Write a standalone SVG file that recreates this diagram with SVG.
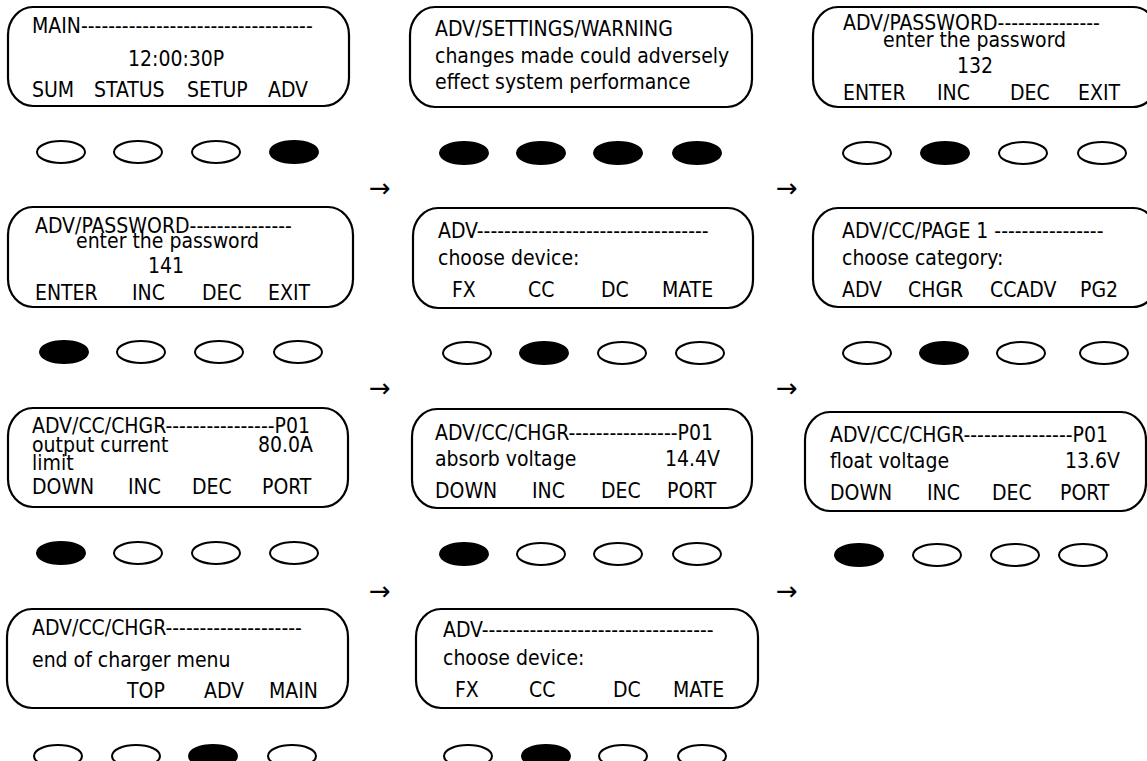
<svg xmlns="http://www.w3.org/2000/svg" width="1147" height="761" viewBox="0 0 1147 761">
<style>
.scr{fill:#fff;stroke:#000;stroke-width:2.2}
.t{font-family:"DejaVu Sans Condensed","DejaVu Sans",sans-serif;font-size:21px;fill:#000}
.off{fill:#fff;stroke:#000;stroke-width:2}
.on{fill:#000;stroke:#000;stroke-width:2}
.arr{font-family:"DejaVu Sans","Liberation Sans",sans-serif;font-size:26px;fill:#000}
</style>
<rect width="1147" height="761" fill="#fff"/>
<g id="connectors">
<text class="arr" x="369" y="197">→</text>
<text class="arr" x="776" y="197">→</text>
<text class="arr" x="369" y="397">→</text>
<text class="arr" x="776" y="397">→</text>
<text class="arr" x="369" y="600">→</text>
<text class="arr" x="776" y="600">→</text>
</g>
<g id="screen1">
<rect class="scr" x="8" y="7" width="341" height="99" rx="25" ry="28"/>
<text class="t" x="32" y="33">MAIN----------------------------------</text>
<text class="t" x="128" y="66">12:00:30P</text>
<text class="t" x="32" y="97">SUM</text><text class="t" x="94" y="97">STATUS</text><text class="t" x="187" y="97">SETUP</text><text class="t" x="268" y="97">ADV</text>
<ellipse class="off" cx="61" cy="152" rx="24" ry="11"/><ellipse class="off" cx="138" cy="152" rx="24" ry="11"/><ellipse class="off" cx="216" cy="152" rx="24" ry="11"/><ellipse class="on" cx="294" cy="152" rx="24" ry="11"/>
</g>
<g id="screen2">
<rect class="scr" x="410" y="7" width="342" height="100" rx="25" ry="28"/>
<text class="t" x="435" y="36">ADV/SETTINGS/WARNING</text>
<text class="t" x="435" y="63">changes made could adversely</text>
<text class="t" x="435" y="89">effect system performance</text>
<ellipse class="on" cx="464" cy="153" rx="24" ry="11"/><ellipse class="on" cx="541" cy="153" rx="24" ry="11"/><ellipse class="on" cx="618" cy="153" rx="24" ry="11"/><ellipse class="on" cx="697" cy="153" rx="24" ry="11"/>
</g>
<g id="screen3">
<rect class="scr" x="813" y="7" width="345" height="100" rx="25" ry="28"/>
<text class="t" x="843" y="30">ADV/PASSWORD---------------</text>
<text class="t" x="883" y="47">enter the password</text>
<text class="t" x="957" y="73">132</text>
<text class="t" x="843" y="100">ENTER</text><text class="t" x="937" y="100">INC</text><text class="t" x="1010" y="100">DEC</text><text class="t" x="1078" y="100">EXIT</text>
<ellipse class="off" cx="867" cy="153" rx="24" ry="11"/><ellipse class="on" cx="945" cy="153" rx="24" ry="11"/><ellipse class="off" cx="1023" cy="153" rx="24" ry="11"/><ellipse class="off" cx="1102" cy="153" rx="24" ry="11"/>
</g>
<g id="screen4">
<rect class="scr" x="8" y="207" width="345" height="100" rx="25" ry="28"/>
<text class="t" x="35" y="233">ADV/PASSWORD---------------</text>
<text class="t" x="76" y="248">enter the password</text>
<text class="t" x="148" y="273">141</text>
<text class="t" x="35" y="300">ENTER</text><text class="t" x="132" y="300">INC</text><text class="t" x="202" y="300">DEC</text><text class="t" x="268" y="300">EXIT</text>
<ellipse class="on" cx="64" cy="352" rx="24" ry="11"/><ellipse class="off" cx="141" cy="352" rx="24" ry="11"/><ellipse class="off" cx="219" cy="352" rx="24" ry="11"/><ellipse class="off" cx="298" cy="352" rx="24" ry="11"/>
</g>
<g id="screen5">
<rect class="scr" x="413" y="208" width="340" height="100" rx="25" ry="28"/>
<text class="t" x="438" y="238">ADV----------------------------------</text>
<text class="t" x="438" y="265">choose device:</text>
<text class="t" x="452" y="297">FX</text><text class="t" x="528" y="297">CC</text><text class="t" x="601" y="297">DC</text><text class="t" x="662" y="297">MATE</text>
<ellipse class="off" cx="467" cy="353" rx="24" ry="11"/><ellipse class="on" cx="544" cy="353" rx="24" ry="11"/><ellipse class="off" cx="622" cy="353" rx="24" ry="11"/><ellipse class="off" cx="700" cy="353" rx="24" ry="11"/>
</g>
<g id="screen6">
<rect class="scr" x="813" y="208" width="345" height="99" rx="25" ry="28"/>
<text class="t" x="842" y="238">ADV/CC/PAGE 1 ----------------</text>
<text class="t" x="842" y="265">choose category:</text>
<text class="t" x="842" y="297">ADV</text><text class="t" x="908" y="297">CHGR</text><text class="t" x="990" y="297">CCADV</text><text class="t" x="1080" y="297">PG2</text>
<ellipse class="off" cx="867" cy="353" rx="24" ry="11"/><ellipse class="on" cx="944" cy="353" rx="24" ry="11"/><ellipse class="off" cx="1021" cy="353" rx="24" ry="11"/><ellipse class="off" cx="1104" cy="353" rx="24" ry="11"/>
</g>
<g id="screen7">
<rect class="scr" x="8" y="408" width="340" height="99" rx="25" ry="28"/>
<text class="t" x="32" y="433">ADV/CC/CHGR----------------P01</text>
<text class="t" x="32" y="452">output current</text><text class="t" x="313" y="452" text-anchor="end">80.0A</text>
<text class="t" x="32" y="470">limit</text>
<text class="t" x="32" y="494">DOWN</text><text class="t" x="128" y="494">INC</text><text class="t" x="192" y="494">DEC</text><text class="t" x="262" y="494">PORT</text>
<ellipse class="on" cx="61" cy="553" rx="24" ry="11"/><ellipse class="off" cx="138" cy="553" rx="24" ry="11"/><ellipse class="off" cx="216" cy="553" rx="24" ry="11"/><ellipse class="off" cx="294" cy="553" rx="24" ry="11"/>
</g>
<g id="screen8">
<rect class="scr" x="412" y="409" width="340" height="99" rx="25" ry="28"/>
<text class="t" x="435" y="440">ADV/CC/CHGR----------------P01</text>
<text class="t" x="435" y="466">absorb voltage</text><text class="t" x="720" y="466" text-anchor="end">14.4V</text>
<text class="t" x="435" y="498">DOWN</text><text class="t" x="532" y="498">INC</text><text class="t" x="601" y="498">DEC</text><text class="t" x="667" y="498">PORT</text>
<ellipse class="on" cx="464" cy="554" rx="24" ry="11"/><ellipse class="off" cx="541" cy="554" rx="24" ry="11"/><ellipse class="off" cx="618" cy="554" rx="24" ry="11"/><ellipse class="off" cx="697" cy="554" rx="24" ry="11"/>
</g>
<g id="screen9">
<rect class="scr" x="805" y="412" width="341" height="99" rx="25" ry="28"/>
<text class="t" x="830" y="442">ADV/CC/CHGR----------------P01</text>
<text class="t" x="830" y="468">float voltage</text><text class="t" x="1120" y="468" text-anchor="end">13.6V</text>
<text class="t" x="830" y="500">DOWN</text><text class="t" x="927" y="500">INC</text><text class="t" x="992" y="500">DEC</text><text class="t" x="1060" y="500">PORT</text>
<ellipse class="on" cx="859" cy="555" rx="24" ry="11"/><ellipse class="off" cx="937" cy="555" rx="24" ry="11"/><ellipse class="off" cx="1015" cy="555" rx="24" ry="11"/><ellipse class="off" cx="1083" cy="555" rx="24" ry="11"/>
</g>
<g id="screen10">
<rect class="scr" x="7" y="609" width="341" height="99" rx="25" ry="28"/>
<text class="t" x="32" y="635">ADV/CC/CHGR--------------------</text>
<text class="t" x="32" y="667">end of charger menu</text>
<text class="t" x="127" y="698">TOP</text><text class="t" x="204" y="698">ADV</text><text class="t" x="269" y="698">MAIN</text>
<ellipse class="off" cx="58" cy="756" rx="24" ry="11"/><ellipse class="off" cx="136" cy="756" rx="24" ry="11"/><ellipse class="on" cx="213" cy="756" rx="24" ry="11"/><ellipse class="off" cx="292" cy="756" rx="24" ry="11"/>
</g>
<g id="screen11">
<rect class="scr" x="416" y="609" width="342" height="99" rx="25" ry="28"/>
<text class="t" x="443" y="637">ADV----------------------------------</text>
<text class="t" x="443" y="665">choose device:</text>
<text class="t" x="455" y="697">FX</text><text class="t" x="529" y="697">CC</text><text class="t" x="613" y="697">DC</text><text class="t" x="673" y="697">MATE</text>
<ellipse class="off" cx="468" cy="756" rx="24" ry="11"/><ellipse class="on" cx="546" cy="756" rx="24" ry="11"/><ellipse class="off" cx="623" cy="756" rx="24" ry="11"/><ellipse class="off" cx="702" cy="756" rx="24" ry="11"/>
</g>
</svg>
